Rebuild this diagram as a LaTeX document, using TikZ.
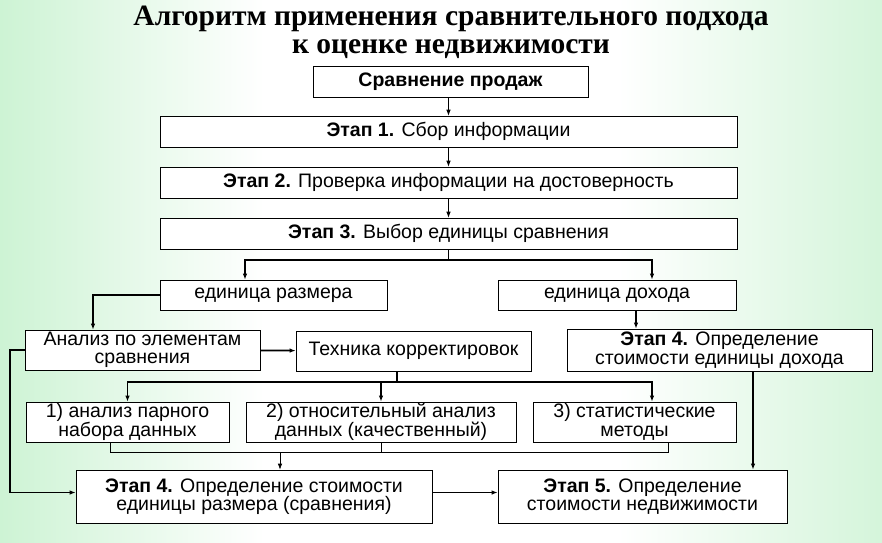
\documentclass[tikz,border=0pt]{standalone}
\usepackage{fontspec}
\setmainfont{Liberation Sans}
\newfontfamily\titlefont{Liberation Serif}
\usetikzlibrary{arrows.meta,positioning}
\definecolor{mint}{RGB}{205,243,212}
\pgfdeclarehorizontalshading{paper}{100bp}{color(0bp)=(mint); color(25bp)=(mint); color(40bp)=(white);
	color(60bp)=(white); color(75bp)=(mint!85!white); color(100bp)=(mint!85!white)}

\begin{document}
\begin{tikzpicture}[x=1pt, y=-1pt, node distance=51pt, on grid,
	>={Latex[length=6pt,width=4.5pt]},
	box/.style={draw, fill=white, line width=0.7pt, align=center, inner sep=0pt,
		font=\fontsize{19.5}{18.5}\selectfont},
	thin arrow/.style={->, line width=0.7pt},
	thick arrow/.style={->, line width=1.8pt}]
	\useasboundingbox (0,0) rectangle (882,542);
	\shade[shading=paper] (0,0) rectangle (882,542);

	\node[font=\titlefont\bfseries\fontsize{29.5}{28}\selectfont, align=center] (title) at (451,32)
		{Алгоритм применения сравнительного подхода\\к оценке недвижимости};

	% chain of stages
	\node[box, minimum width=275, minimum height=31] (s_0) at (450.5,81.5) {\textbf{Сравнение продаж}};
	\node[box, minimum width=577, minimum height=31] (e_1) at (448.5,131.5) {\textbf{Этап 1.} Сбор информации};
	\node[box, minimum width=577, minimum height=31] (e_2) [below=of e_1] {\textbf{Этап 2.} Проверка информации на достоверность};
	\node[box, minimum width=577, minimum height=31] (e_3) [below=of e_2] {\textbf{Этап 3.} Выбор единицы сравнения};

	\node[box, minimum width=227, minimum height=30] (u_size) at (273.5,295) {единица размера};
	\node[box, minimum width=238, minimum height=30] (u_inc) at (617,295) {единица дохода};

	\node[box, minimum width=235, minimum height=40] (an) at (142.5,350) {Анализ по элементам\\сравнения};
	\node[box, minimum width=235, minimum height=40] (tech) at (413.5,351) {Техника корректировок};
	\node[box, minimum width=305, minimum height=42] (e_4i) at (719.5,350) {\textbf{Этап 4.} Определение\\стоимости единицы дохода};

	\node[box, minimum width=203, minimum height=40] (m_1) at (127.5,422) {1) анализ парного\\набора данных};
	\node[box, minimum width=270, minimum height=40] (m_2) at (381,422) {2) относительный анализ\\данных (качественный)};
	\node[box, minimum width=203, minimum height=40] (m_3) at (634.5,422) {3) статистические\\методы};

	\node[box, minimum width=356, minimum height=53] (e_4s) at (254,496.5) {\textbf{Этап 4.} Определение стоимости\\единицы размера (сравнения)};
	\node[box, minimum width=289, minimum height=53] (e_5) at (642.5,496.5) {\textbf{Этап 5.} Определение\\стоимости недвижимости};

	\coordinate (fork) at (448.5,260);
	\coordinate (split) at (397,382);
	\coordinate (join) at (280,452);

	\draw[thin arrow] (s_0.south -| e_1.north) -- (e_1.north);
	\draw[thin arrow] (e_1) -- (e_2);
	\draw[thin arrow] (e_2) -- (e_3);
	\draw[line width=1.2pt] (e_3.south) -- (fork);
	\draw[line width=1.2pt, ->] (fork) -| ([xshift=-28.5pt]u_size.north);
	\draw[line width=1.2pt, ->] (fork) -| ([xshift=35pt]u_inc.north);

	\draw[thick arrow] (u_size.west) -| ([xshift=-49.5pt]an.north);
	\draw[thick arrow] (an) -- (tech);
	\draw[thick arrow] (an.west) -- ++(-15,0) |- ([yshift=4pt]e_4s.west);
	\draw[line width=1.8pt] (tech.south -| split) -- (split);
	\draw[thick arrow] (split) -| (m_1.north);
	\draw[thick arrow] (split) -| (m_2.north);
	\draw[thick arrow] (split) -| ([xshift=17.5pt]m_3.north);

	\draw[line width=0.7pt] ([xshift=-17.5pt]m_1.south) |- (join) -| ([xshift=33.5pt]m_3.south);
	\draw[line width=0.7pt] (m_2.south) -- (m_2.south |- join);
	\draw[thin arrow] (join) -- (join |- e_4s.north);

	\draw[thick arrow] ([xshift=19pt]u_inc.south) -- ([xshift=19pt]u_inc.south |- e_4i.north);
	\draw[thick arrow] ([xshift=33.5pt]e_4i.south) -- ([xshift=33.5pt]e_4i.south |- e_5.north);
	\draw[thick arrow] ([yshift=4pt]e_4s.east) -- ([yshift=4pt]e_5.west);
\end{tikzpicture}
\end{document}
